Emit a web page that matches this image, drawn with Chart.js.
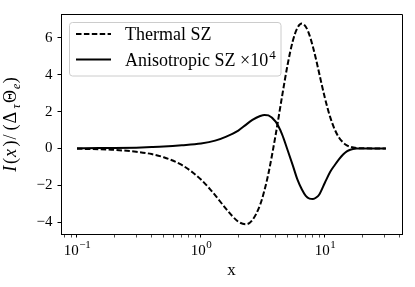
<!DOCTYPE html>
<html>
<head>
<meta charset="utf-8">
<script src="https://cdn.jsdelivr.net/npm/chart.js@4.4.1/dist/chart.umd.min.js"></script>
<style>
  html, body { margin: 0; padding: 0; background: #fff; }
  #wrap { width: 415px; height: 287px; position: relative; }
</style>
</head>
<body>
<div id="wrap"><canvas id="chart" width="415" height="287"></canvas></div>
<script>
// frequency x
const xValues = [0.1, 0.15, 0.2, 0.3, 0.4, 0.5, 0.7, 1, 1.3, 1.6, 2, 2.3, 2.6, 3, 3.25, 3.5,
  4, 4.5, 5, 5.5, 6, 6.5, 7, 7.5, 8, 8.5, 9, 10, 11, 12, 13, 14, 15, 16, 18, 20, 25, 31];

// Thermal SZ (dashed)
const thermalSZ = [-0.02, -0.045, -0.08, -0.18, -0.31, -0.48, -0.90, -1.69, -2.54, -3.30, -3.98, -4.12, -3.89, -3.06, -2.28, -1.36,
  0.73, 2.80, 4.56, 5.83, 6.55, 6.78, 6.61, 6.15, 5.51, 4.79, 4.05, 2.72, 1.71, 1.02, 0.58, 0.32, 0.17, 0.09, 0.02, 0.005, 0, 0];

// Anisotropic SZ x 10^4 (solid)
const anisotropicSZ = [0.01, 0.015, 0.02, 0.04, 0.07, 0.10, 0.17, 0.27, 0.42, 0.64, 0.97, 1.28, 1.55, 1.76, 1.82, 1.79,
  1.45, 0.78, -0.10, -0.92, -1.70, -2.22, -2.58, -2.73, -2.75, -2.67, -2.50, -1.85, -1.28, -0.90, -0.58, -0.33, -0.16, -0.07, -0.01, 0, 0, 0];

const yTickValues = [-4, -2, 0, 2, 4, 6];
const xMajorTicks = [0.1, 1, 10];
const xTickExponents = ['\u22121', '0', '1'];
const xMinorTicks = [0.08, 0.09, 0.2, 0.3, 0.4, 0.5, 0.6, 0.7, 0.8, 0.9,
  2, 3, 4, 5, 6, 7, 8, 9, 20, 30, 40];
const legendLabels = ['Thermal SZ', 'Anisotropic SZ \u00d710'];

const SERIF = '"Liberation Serif", "DejaVu Serif", serif';

function toPoints(ys) {
  return xValues.map((x, i) => ({ x: x, y: ys[i] }));
}

// axes frame, x tick labels, axis titles, legend
const decorPlugin = {
  id: 'decor',
  afterDraw(chart) {
    const ctx = chart.ctx;
    const area = chart.chartArea;
    const xs = chart.scales.x;
    ctx.save();

    // top and right spines
    ctx.strokeStyle = '#000';
    ctx.lineWidth = 1;
    ctx.beginPath();
    ctx.moveTo(area.left, area.top + 0.5);
    ctx.lineTo(area.right + 0.5, area.top + 0.5);
    ctx.lineTo(area.right + 0.5, area.bottom);
    ctx.stroke();

    // x tick labels 10^n
    ctx.fillStyle = '#000';
    ctx.textBaseline = 'alphabetic';
    ctx.textAlign = 'left';
    xMajorTicks.forEach((v, i) => {
      const px = xs.getPixelForValue(v);
      ctx.font = '15px ' + SERIF;
      const wb = ctx.measureText('10').width;
      ctx.font = '11px ' + SERIF;
      const ws = ctx.measureText(xTickExponents[i]).width;
      const x0 = px - (wb + ws) / 2;
      ctx.font = '15px ' + SERIF;
      ctx.fillText('10', x0, 255);
      ctx.font = '11px ' + SERIF;
      ctx.fillText(xTickExponents[i], x0 + wb + 0.5, 248);
    });

    // x axis title
    ctx.font = '17px ' + SERIF;
    ctx.textAlign = 'center';
    ctx.fillText('x', (area.left + area.right) / 2, 275);

    // y axis title I(x)/(Δτ Θe), rotated
    const parts = [
      ['I', 0.44, true, false], ['(', 0.389, false, false], ['x', 0.572, true, false],
      [')', 0.389, false, false], ['/', 0.5, false, false], ['(', 0.389, false, false],
      ['\u0394', 0.833, false, false], ['\u03c4', 0.306, true, true],
      ['\u0398', 0.778, false, false], ['e', 0.326, true, true], [')', 0.389, false, false]
    ];
    const fs = 18;
    const total = parts.reduce((s, p) => s + p[1] * fs, 0);
    ctx.save();
    ctx.translate(16, (area.top + area.bottom) / 2 + total / 2);
    ctx.rotate(-Math.PI / 2);
    ctx.textAlign = 'left';
    let cx = 0;
    parts.forEach(p => {
      const size = p[3] ? 12 : fs;
      ctx.font = (p[2] ? 'italic ' : '') + size + 'px ' + SERIF;
      ctx.fillText(p[0], cx, p[3] ? 3.5 : 0);
      cx += p[1] * fs;
    });
    ctx.restore();

    // legend
    const bx = 69.5, by = 22.5, bw = 211.5, bh = 53.5, r = 3;
    ctx.beginPath();
    ctx.moveTo(bx + r, by);
    ctx.arcTo(bx + bw, by, bx + bw, by + bh, r);
    ctx.arcTo(bx + bw, by + bh, bx, by + bh, r);
    ctx.arcTo(bx, by + bh, bx, by, r);
    ctx.arcTo(bx, by, bx + bw, by, r);
    ctx.closePath();
    ctx.fillStyle = 'rgba(255,255,255,0.8)';
    ctx.fill();
    ctx.strokeStyle = '#cccccc';
    ctx.lineWidth = 1;
    ctx.stroke();

    const rows = [34, 59.5];
    chart.data.datasets.forEach((ds, i) => {
      ctx.strokeStyle = ds.borderColor;
      ctx.lineWidth = ds.borderWidth;
      ctx.setLineDash(ds.borderDash || []);
      ctx.beginPath();
      ctx.moveTo(76, rows[i]);
      ctx.lineTo(111, rows[i]);
      ctx.stroke();
      ctx.setLineDash([]);
      ctx.fillStyle = '#000';
      ctx.textAlign = 'left';
      ctx.font = '18px ' + SERIF;
      ctx.fillText(legendLabels[i], 125, rows[i] + 6);
      if (i === 1) {
        const w = ctx.measureText(legendLabels[i]).width;
        ctx.font = '13px ' + SERIF;
        ctx.fillText('4', 125 + w + 1, rows[i] - 1);
      }
    });
    ctx.restore();
  }
};

new Chart(document.getElementById('chart'), {
  type: 'line',
  data: {
    datasets: [
      {
        label: 'Thermal SZ',
        data: toPoints(thermalSZ),
        borderColor: '#000',
        borderWidth: 2,
        borderDash: [5.5, 2.4],
        pointRadius: 0,
        fill: false,
        cubicInterpolationMode: 'monotone'
      },
      {
        label: 'Anisotropic SZ \u00d710\u2074',
        data: toPoints(anisotropicSZ),
        borderColor: '#000',
        borderWidth: 2,
        pointRadius: 0,
        fill: false,
        cubicInterpolationMode: 'monotone'
      }
    ]
  },
  options: {
    responsive: false,
    animation: false,
    layout: { padding: { left: 0, right: 13, top: 13, bottom: 0 } },
    plugins: {
      legend: { display: false },
      tooltip: { enabled: false }
    },
    scales: {
      x: {
        type: 'logarithmic',
        min: 0.0743,
        max: 41.8,
        afterBuildTicks: scale => {
          scale.ticks = xMajorTicks.concat(xMinorTicks).map(v => ({ value: v }));
        },
        afterFit: scale => { scale.height = 53; },
        ticks: {
          autoSkip: false,
          maxRotation: 0,
          callback: () => ''
        },
        grid: {
          drawOnChartArea: false,
          drawTicks: true,
          tickLength: 3.5,
          color: '#000',
          lineWidth: ctx => (ctx.tick && xMajorTicks.includes(ctx.tick.value)) ? 1 : 0.7
        },
        border: { display: true, color: '#000', width: 1 }
      },
      y: {
        type: 'linear',
        min: -4.65,
        max: 7.3,
        afterBuildTicks: scale => {
          scale.ticks = yTickValues.map(v => ({ value: v }));
        },
        afterFit: scale => { scale.width = 61; },
        ticks: {
          color: '#000',
          padding: 5,
          font: { family: SERIF, size: 15 },
          callback: v => String(v).replace('-', '\u2212')
        },
        grid: {
          drawOnChartArea: false,
          drawTicks: true,
          tickLength: 3.5,
          color: '#000'
        },
        border: { display: true, color: '#000', width: 1 }
      }
    }
  },
  plugins: [decorPlugin]
});
</script>
</body>
</html>
